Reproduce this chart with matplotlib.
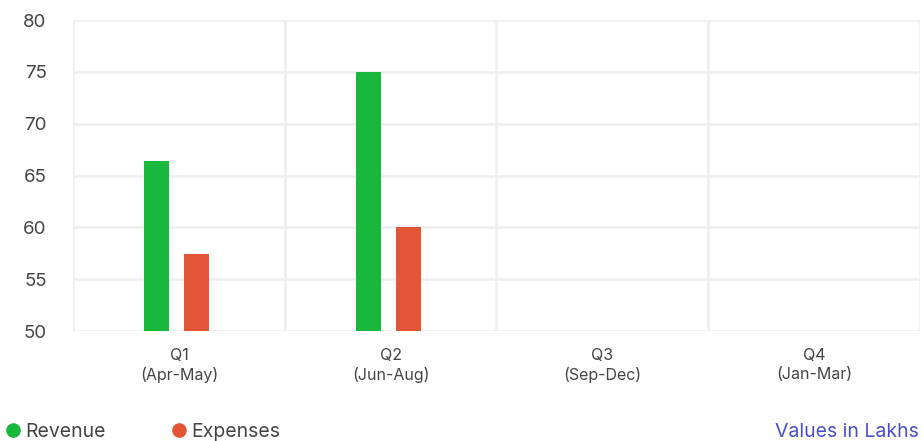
import numpy as np
import matplotlib.pyplot as plt
from matplotlib.lines import Line2D

quarters = ["Q1\n(Apr-May)", "Q2\n(Jun-Aug)", "Q3\n(Sep-Dec)", "Q4\n(Jan-Mar)"]
revenue = [66.4, 75.0, np.nan, np.nan]
expenses = [57.4, 60.0, np.nan, np.nan]

green = "#17b83b"
orange = "#e45537"
grid_col = "#eeeeee"
text_col = "#444444"

plt.rcParams['font.family'] = ['Inter', 'DejaVu Sans']

fig = plt.figure(figsize=(9.23, 4.41), dpi=100)
ax = fig.add_axes([0.0791, 0.2494, 0.9176, 0.7052])

x = np.arange(len(quarters))
w = 0.118
ax.bar(x - 0.106, revenue, width=w, color=green, zorder=3)
ax.bar(x + 0.083, expenses, width=w, color=orange, zorder=3)

ax.set_xlim(-0.5, len(quarters) - 0.5)
ax.set_ylim(50, 80)
ax.set_yticks(np.arange(50, 81, 5))
ax.set_xticks(x)
ax.set_xticklabels(quarters, fontsize=11.5, color=text_col, linespacing=1.35)
ax.tick_params(axis='y', length=0, pad=19, labelsize=13.5, labelcolor=text_col)
ax.tick_params(axis='x', length=0, pad=12)

# grid: horizontal at ticks, vertical at category boundaries
for yv in np.arange(50, 81, 5):
    ax.axhline(yv, color=grid_col, lw=1.8, zorder=1)
for xv in np.arange(-0.5, len(quarters), 1.0):
    ax.axvline(xv, color=grid_col, lw=1.8, zorder=1)
for s in ax.spines.values():
    s.set_visible(False)

handles = [
    Line2D([], [], marker='o', ls='', color=green, markersize=9.5),
    Line2D([], [], marker='o', ls='', color=orange, markersize=9.5),
]
fig.legend(handles, ["Revenue", "Expenses"], loc='lower left',
           bbox_to_anchor=(-0.018, -0.04), ncol=2, frameon=False,
           fontsize=14, labelcolor=text_col, handletextpad=0.05,
           columnspacing=3.15, handlelength=1.2)

fig.text(0.995, -0.001, "Values in Lakhs", ha='right', va='bottom',
         fontsize=14, color="#4a4fc4")

fig.savefig("out.png", dpi=100)
